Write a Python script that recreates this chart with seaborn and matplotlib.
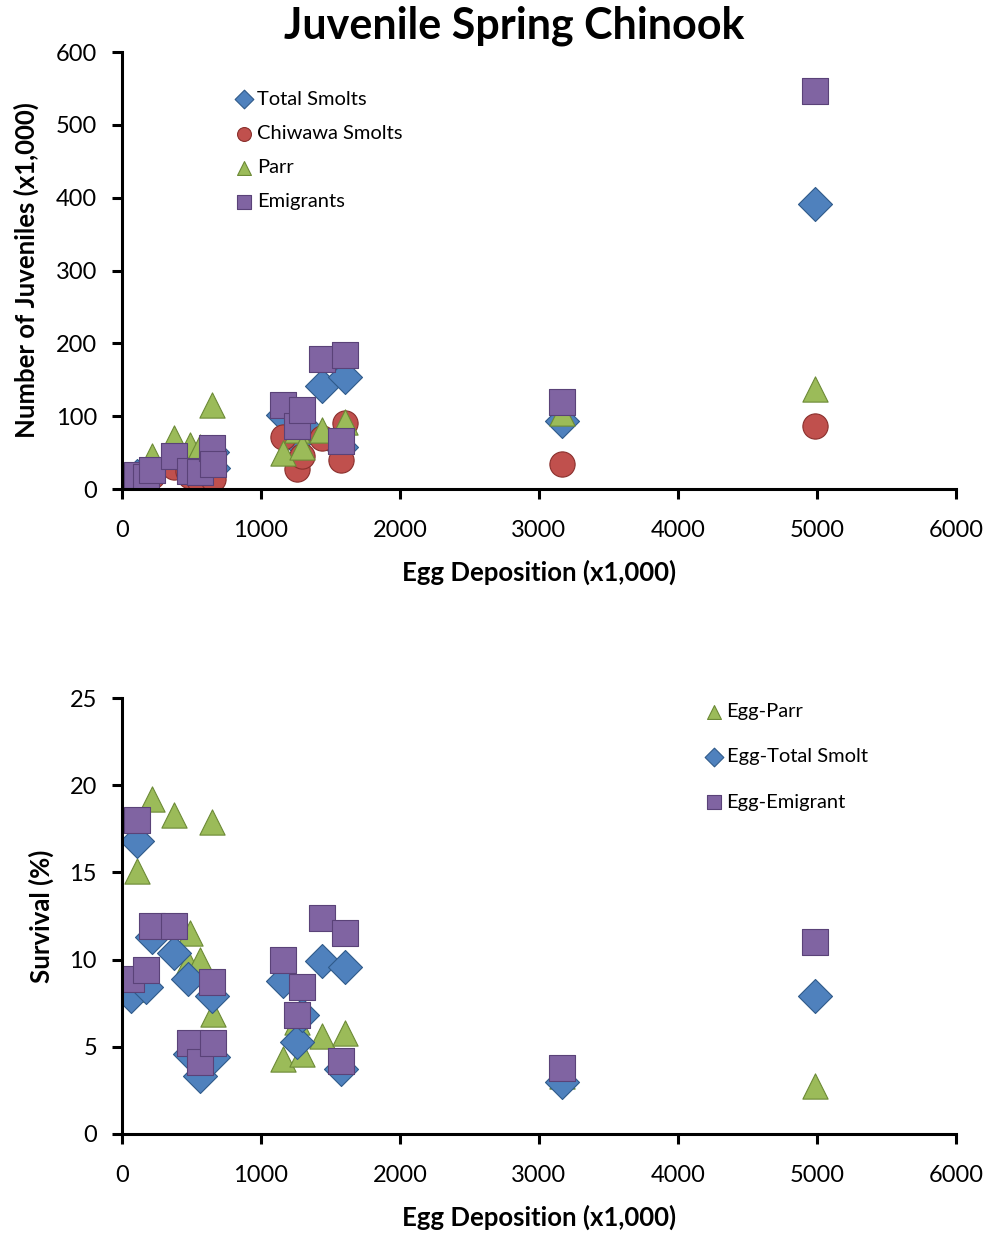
import numpy as np
import pandas as pd
import matplotlib
matplotlib.use('Agg')
import matplotlib.pyplot as plt
import seaborn as sns

# Egg deposition (x1,000), one entry per brood year
egg = [62, 108, 172, 216, 376, 476, 489, 561, 645, 652,
       1158, 1262, 1292, 1439, 1576, 1604, 3165, 4986]

# Juvenile counts (x1,000)
total_smolts = [4.9, 18.1, 14.4, 24.4, 39.1, 42.4, 22.5, 18.5, 51, 28.7,
                102, 67, 88, 142, 58, 154, 93, 392]
chiwawa_smolts = [3, 10, 10, 18, 30, 25, 18, 10, 20, 14,
                  72, 27, 46, 70, 40, 90, 35, 87]
parr = [5, 16.3, np.nan, 45, 70, 47, 60, 57, 115, 45,
        50, 81, 58, 81, np.nan, 92, 104, 137]
emigrants = [5.5, 19.4, 16.2, 25.7, 44.7, np.nan, 25.4, 23, 56, 34,
             116, 86, 108, 179, 66, 184, 120, 546]

# Survival (%)
surv_parr = [8.3, 15.1, np.nan, 19.2, 18.3, 9.8, 11.5, 10.0, 17.9, 6.9,
             4.3, 6.4, 4.6, 5.6, np.nan, 5.8, 3.3, 2.75]
surv_smolt = [7.9, 16.8, 8.4, 11.3, 10.4, 8.9, 4.6, 3.3, 7.9, 4.4,
              8.8, 5.3, 6.8, 9.9, 3.7, 9.6, 3.0, 7.9]
surv_emig = [8.9, 18.0, 9.4, 11.9, 11.9, np.nan, 5.2, 4.1, 8.7, 5.2,
             10.0, 6.8, 8.4, 12.4, 4.2, 11.5, 3.8, 11.0]

df = pd.DataFrame({'egg': egg, 'total': total_smolts, 'chiwawa': chiwawa_smolts,
                   'parr': parr, 'emig': emigrants, 's_parr': surv_parr,
                   's_smolt': surv_smolt, 's_emig': surv_emig})

BLUE = '#4F81BD'
RED = '#C0504D'
GREEN = '#9BBB59'
PURPLE = '#8064A2'

sns.set_style('white')
plt.rcParams['font.family'] = ['Lato', 'DejaVu Sans']
for key in ('text.color', 'axes.labelcolor', 'xtick.color', 'ytick.color'):
    plt.rcParams[key] = 'black'

fig = plt.figure(figsize=(9.9, 12.33), dpi=100)
ax1 = fig.add_axes([0.1232, 0.6034, 0.8424, 0.3544])
ax2 = fig.add_axes([0.1232, 0.0803, 0.8424, 0.3536])

# --------------------
# Top panel: juvenile counts
# --------------------
top_series = [
    ('total', 'Total Smolts', 'D', BLUE, 300, '#2F5A8A'),
    ('chiwawa', 'Chiwawa Smolts', 'o', RED, 330, '#8A2F2C'),
    ('parr', 'Parr', '^', GREEN, 330, '#6C8A36'),
    ('emig', 'Emigrants', 's', PURPLE, 330, '#5A4278'),
]
for col, lab, mk, c, s, ec in top_series:
    sns.scatterplot(data=df, x='egg', y=col, ax=ax1, marker=mk, color=c,
                    s=s, edgecolor=ec, linewidth=0.8, label=lab)

# --------------------
# Bottom panel: survival
# --------------------
bot_series = [
    ('s_parr', 'Egg-Parr', '^', GREEN, 330, '#6C8A36'),
    ('s_smolt', 'Egg-Total Smolt', 'D', BLUE, 300, '#2F5A8A'),
    ('s_emig', 'Egg-Emigrant', 's', PURPLE, 330, '#5A4278'),
]
for col, lab, mk, c, s, ec in bot_series:
    sns.scatterplot(data=df, x='egg', y=col, ax=ax2, marker=mk, color=c,
                    s=s, edgecolor=ec, linewidth=0.8, label=lab)

for ax in (ax1, ax2):
    ax.set_xlim(0, 6000)
    ax.set_xticks(range(0, 6001, 1000))
    for side in ('top', 'right'):
        ax.spines[side].set_visible(False)
    for side in ('left', 'bottom'):
        ax.spines[side].set_linewidth(2.2)
        ax.spines[side].set_color('black')
    ax.tick_params(axis='both', which='major', direction='out', length=7,
                   width=2.2, color='black', labelsize=17, bottom=True, left=True)
    ax.tick_params(axis='x', pad=15)
    ax.tick_params(axis='y', pad=11)
    ax.set_xlabel('Egg Deposition (x1,000)', fontsize=18.5, fontweight='bold', labelpad=14)
    ax.grid(False)

ax1.set_ylim(0, 600)
ax1.set_yticks(range(0, 601, 100))
ax1.set_ylabel('Number of Juveniles (x1,000)', fontsize=18.5, fontweight='bold', labelpad=12)
ax2.set_ylim(0, 25)
ax2.set_yticks(range(0, 26, 5))
ax2.set_ylabel('Survival (%)', fontsize=18.5, fontweight='bold', labelpad=11)

leg1 = ax1.legend(loc='upper left', bbox_to_anchor=(0.127, 0.93), frameon=False,
                  fontsize=14.5, handlelength=0.8, handletextpad=0.25,
                  labelspacing=0.85, markerscale=0.55, borderaxespad=0)
leg2 = ax2.legend(loc='upper left', bbox_to_anchor=(0.69, 1.007), frameon=False,
                  fontsize=14.5, handlelength=0.8, handletextpad=0.25,
                  labelspacing=1.4, markerscale=0.55, borderaxespad=0)

fig.text(0.519, 0.979, 'Juvenile Spring Chinook', ha='center', va='center',
         fontsize=31, fontweight='bold')

fig.savefig('out.png', dpi=100)
